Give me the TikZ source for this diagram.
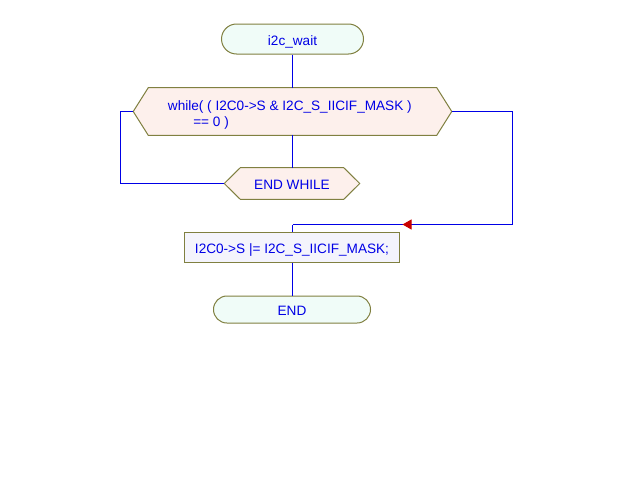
\documentclass[tikz,border=0pt]{standalone}
\usepackage{fontspec}
\setmainfont{Liberation Sans}
\usetikzlibrary{arrows.meta,decorations.markings}
\pgfdeclarelayer{background}
\pgfsetlayers{background,main}
\definecolor{lineblue}{RGB}{0,0,230}
\definecolor{textblue}{RGB}{0,0,230}
\definecolor{olive}{RGB}{128,128,64}
\definecolor{termfill}{RGB}{240,252,248}
\definecolor{hexfill}{RGB}{253,240,236}
\definecolor{boxfill}{RGB}{244,244,252}
\definecolor{arrowred}{RGB}{200,0,0}
\tikzset{
  every node/.style={font=\fontsize{10.2}{12}\selectfont, text=textblue, inner sep=0pt},
  oneline/.style={text height=9.4pt, text depth=0pt},
  terminal/.style={oneline, draw=olive, fill=termfill, line width=0.75pt},
  hexbg/.style={draw=olive, fill=hexfill, line width=0.75pt},
  actbox/.style={oneline, draw=olive, fill=boxfill, line width=0.75pt},
  conn/.style={draw=lineblue, line width=0.75pt},
}
\begin{document}
\begin{tikzpicture}[x=0.75pt,y=-0.75pt]
\useasboundingbox (0,0) rectangle (632,496);

\node[terminal, minimum width=106.5pt, minimum height=22.5pt, rounded corners=11.25pt] (t1) at (292.5,39) {i2c\_wait};

\node[minimum width=238.5pt, minimum height=35.25pt] (w) at (292.5,111.5) {};
\node[align=left] (wt) at ([xshift=-2pt,yshift=-2.5pt]w.center)
  {while( ( I2C0->S \& I2C\_S\_IICIF\_MASK )\\\hspace*{19pt}== 0 )};
\node[oneline, minimum width=101.25pt, minimum height=23.25pt] (ew) at (292,183.5) {END WHILE};

\begin{pgfonlayer}{background}
\fill[white] (0,0) rectangle (632,496);
\path[hexbg] (w.west) -- ([xshift=11.25pt]w.north west) -- ([xshift=-11.25pt]w.north east) -- (w.east)
  -- ([xshift=-11.25pt]w.south east) -- ([xshift=11.25pt]w.south west) -- cycle;
\path[hexbg] (ew.west) -- ([xshift=12pt]ew.north west) -- ([xshift=-12pt]ew.north east) -- (ew.east)
  -- ([xshift=-12pt]ew.south east) -- ([xshift=12pt]ew.south west) -- cycle;
\end{pgfonlayer}

\node[actbox, minimum width=161.25pt, minimum height=22.5pt] (b) at (292,247) {I2C0->S |= I2C\_S\_IICIF\_MASK;};

\node[terminal, minimum width=117.75pt, minimum height=20.25pt, rounded corners=10.1pt] (e) at (292,309.5) {END};

\coordinate (l1) at (120.5,111.5);
\coordinate (r1) at (512.5,111.5);
\coordinate (r2) at (512.5,224.5);
\coordinate (j) at (292.5,224.5);

\draw[conn] (t1.south) -- (w.north);
\draw[conn] (w.south) -- (w.south |- ew.north);
\draw[conn] (w.west) -- (l1) |- (ew.west);
\draw[conn] (w.east) -- (r1) -- (r2);
\draw[conn, postaction={decorate}, decoration={markings, mark=at position 0.5 with {\arrow[arrowred]{Triangle[length=6.75pt,width=7.5pt]}}}] (r2) -- (j);
\draw[conn] (j) -- (j |- b.north);
\draw[conn] (j |- b.south) -- (j |- e.north);
\end{tikzpicture}
\end{document}
